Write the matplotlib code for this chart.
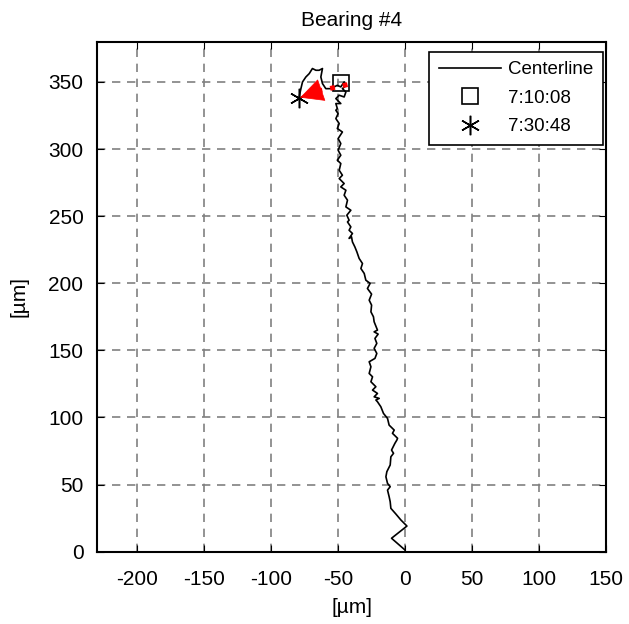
import numpy as np
import matplotlib.pyplot as plt

# centerline trace (µm), bottom to top
x_trace = [-0.2, -10.2, 1.3, -3.2, -7, -10.7, -11.2, -12, -13.2, -11.2, -13.2, -14.4,
           -13.7, -11.2, -10.7, -8.7, -10.2, -7.7, -6.2, -5.7, -9.5, -8.2, -12, -13.2,
           -16.2, -18.2, -20.7, -21.9, -19.4, -23.2, -20.7, -24.4, -21.9, -25.6, -24.4,
           -26.9, -25.6, -26.9, -22.6, -21.2, -23.2, -21.2, -22.6, -20.2, -23.2, -20.7,
           -23.2, -23.7, -25.6, -25.1, -26.9, -25.1, -28.2, -26.2, -29.4, -30.6, -33.1,
           -31.9, -34.4, -36.1, -37.6, -39.4, -40.1, -41.9, -39.4, -41.9, -40.6, -43.1,
           -41.9, -43.6, -40.6, -44.3, -43.1, -45.6, -44.3, -48.1, -45.6, -49.3, -46.9,
           -49.3, -48.1, -50.7, -48.1, -50.1, -48.1, -50.1, -46.9, -50.7, -49.3, -51.8,
           -50.1, -51.8, -50.7, -51.8, -48.1, -51.8, -49.3, -45.6, -44.3, -46.9, -43.9,
           -45.6, -48.1, -50.7, -55.6, -59.3, -61.8, -63, -61.8, -64.3, -66.7, -69.3,
           -71.7, -74.2, -76.7, -77.9, -79.2]
y_trace = [1.3, 10, 19.1, 23.6, 28.1, 32.3, 37.2, 41, 45.9, 48.4, 50.9, 55.8,
           59.6, 64.6, 70.7, 73.3, 75.7, 80.7, 83.2, 84.5, 88.2, 90.6, 94.3, 99.3,
           103, 108, 111.7, 113, 114.2, 115.4, 117.9, 120.4, 122.9, 126.6, 130.3,
           132.8, 137.8, 141.5, 144, 147.7, 151.5, 155.2, 158.9, 162.1, 163.8, 165.1,
           171.3, 175, 178.7, 183.7, 187.4, 191.9, 196.1, 199.9, 202.3, 207.3, 211,
           214.7, 218.5, 223.4, 227.1, 230.8, 234.6, 233.4, 237.1, 239.5, 242, 245.7,
           247, 250.7, 254.4, 256.9, 261.9, 265.6, 269.3, 271.8, 274.3, 278, 280.5,
           284.2, 289.2, 291.7, 295.4, 299.1, 304.1, 307.8, 312.7, 315.3, 319, 322.7,
           326.4, 328.9, 330.2, 333.9, 333.9, 337.6, 340.1, 338.8, 342.5, 345, 347.5,
           350, 346.3, 347.5, 345, 345, 348.8, 353.7, 360, 358.7, 358.7, 360,
           356.2, 353.7, 350, 345, 338.8]

start_pt = (-48.1, 349)   # 7:10:08
end_pt = (-79.5, 338)     # 7:30:48

plt.rcParams['font.family'] = ['Liberation Sans', 'DejaVu Sans']
plt.rcParams['axes.unicode_minus'] = False

fig = plt.figure(figsize=(6.29, 6.24), dpi=100)
ax = fig.add_axes([0.1547, 0.1159, 0.8087, 0.8173])

ax.plot(x_trace, y_trace, color='black', lw=1.2, label='Centerline')
ax.plot(*start_pt, ls='none', marker='s', ms=11, mfc='none', mec='black', mew=1.2,
        label='7:10:08')
ax.plot(*end_pt, ls='none', marker=(6, 2, 0), ms=14, color='black', mew=1.1,
        label='7:30:48')

# red dotted path with solid head
t = 0.5
mid = (start_pt[0] + t * (end_pt[0] - start_pt[0]), start_pt[1] + t * (end_pt[1] - start_pt[1]))
ax.plot([start_pt[0] + 5, mid[0]], [start_pt[1] - 1, mid[1]], color='red', ls=':', lw=3.5)
ax.annotate('', xy=end_pt, xytext=mid,
            arrowprops=dict(arrowstyle='-|>,head_length=1.2,head_width=0.6',
                            color='red', lw=0.5, mutation_scale=13,
                            shrinkA=0, shrinkB=1))

ax.set_xlim(-230, 150)
ax.set_ylim(0, 380)
ax.set_xticks(np.arange(-200, 151, 50))
ax.set_yticks(np.arange(0, 351, 50))
ax.grid(True, color='#808080', ls=(0, (5, 4)), lw=1.2)
ax.tick_params(direction='in', top=True, right=True, length=5, labelsize=15)
ax.tick_params(axis='x', pad=13)
ax.tick_params(axis='y', pad=10)
for s in ax.spines.values():
    s.set_linewidth(1.5)

ax.set_title('Bearing #4', fontsize=15, pad=11)
ax.set_xlabel('[µm]', fontsize=15, labelpad=7)
ax.set_ylabel('[µm]', fontsize=15, labelpad=14)

leg = ax.legend(loc='upper right', bbox_to_anchor=(0.9935, 0.98), borderaxespad=0,
                fancybox=False, edgecolor='black', framealpha=1,
                handlelength=3.3, handletextpad=0.4, fontsize=13.5, borderpad=0.5,
                labelspacing=0.6)
leg.get_frame().set_linewidth(1.2)

fig.savefig('out.png', dpi=100)
